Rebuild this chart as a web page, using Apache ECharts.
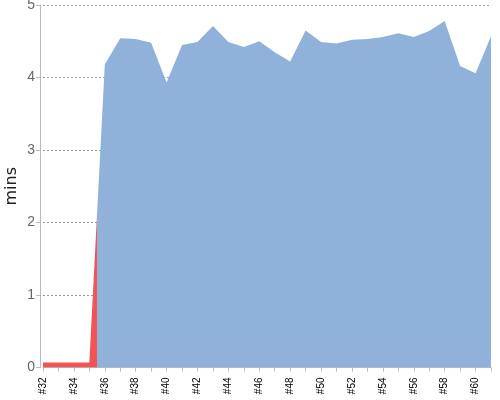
<!DOCTYPE html>
<html>
<head>
<meta charset="utf-8">
<script src="https://cdn.jsdelivr.net/npm/echarts@6/dist/echarts.min.js"></script>
<style>
html, body { margin: 0; padding: 0; background: #fff; }
#chart { width: 500px; height: 400px; }
</style>
</head>
<body>
<div id="chart"></div>
<script>
// builds #32 .. #61
var categories = ['#32','#33','#34','#35','#36','#37','#38','#39','#40','#41',
                  '#42','#43','#44','#45','#46','#47','#48','#49','#50','#51',
                  '#52','#53','#54','#55','#56','#57','#58','#59','#60','#61'];

// build duration in minutes
var durations = [0.07, 0.07, 0.07, 0.07,
                 4.18, 4.54, 4.53, 4.48, 3.93, 4.45, 4.49, 4.71, 4.49, 4.42,
                 4.50, 4.35, 4.22, 4.65, 4.49, 4.47, 4.52, 4.53, 4.56, 4.61,
                 4.56, 4.64, 4.78, 4.16, 4.06, 4.57];

// first 4 builds failed (red), the rest ok (blue)
var failedCount = 4;

var yTicks = { min: 0, max: 5, interval: 1 };

// colour switches half way between last failed and first ok build
var split = (failedCount - 0.5) / (categories.length - 1);

var myChart = echarts.init(document.getElementById('chart'));

var option = {
    animation: false,
    grid: { left: 43, right: 9, top: 5, bottom: 32.5, containLabel: false, outerBoundsMode: 'none' },
    xAxis: {
        type: 'category',
        data: categories,
        boundaryGap: false,
        offset: 4,
        axisLine: { lineStyle: { color: '#bbb' } },
        axisTick: { show: true, interval: 0, length: 4, lineStyle: { color: '#bbb' } },
        axisLabel: {
            interval: 1,
            rotate: 90,
            margin: 6,
            color: '#000',
            fontSize: 10,
            fontFamily: 'Liberation Sans'
        },
        splitLine: { show: false }
    },
    yAxis: {
        type: 'value',
        min: yTicks.min,
        max: yTicks.max,
        interval: yTicks.interval,
        offset: 3,
        name: 'mins',
        nameLocation: 'middle',
        nameRotate: 90,
        nameGap: 20,
        nameMoveOverlap: false,
        nameTextStyle: { color: '#222', fontSize: 16, fontFamily: 'DejaVu Sans' },
        axisLine: { show: true, lineStyle: { color: '#bbb' } },
        axisTick: { show: true, length: 4, lineStyle: { color: '#bbb' } },
        axisLabel: { color: '#666', fontSize: 14, margin: 5, fontFamily: 'Liberation Sans' },
        splitLine: { show: true, lineStyle: { color: '#999', type: [2, 2], width: 1 } }
    },
    series: [
        {
            name: 'duration',
            type: 'line',
            data: durations,
            showSymbol: false,
            lineStyle: { width: 0 },
            areaStyle: {
                opacity: 1,
                color: new echarts.graphic.LinearGradient(0, 0, 1, 0, [
                    { offset: 0, color: '#f05454' },
                    { offset: split, color: '#f05454' },
                    { offset: split, color: '#8fb1da' },
                    { offset: 1, color: '#8fb1da' }
                ])
            }
        }
    ]
};
myChart.setOption(option);
</script>
</body>
</html>
